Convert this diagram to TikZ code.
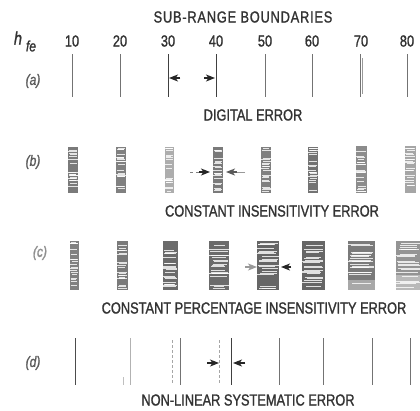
\documentclass[tikz,border=0pt]{standalone}
\usepackage{fontspec}
\newfontfamily\lbl[FakeStretch=0.8,FakeBold=1.2]{Liberation Sans}
\usetikzlibrary{arrows.meta}
\definecolor{ink}{HTML}{333333}
\newcommand\streakbar[5]{%
  \fill[#5] ({#1-#2/2},#3) rectangle ({#1+#2/2},#4);
  \foreach \k in {1,...,20}{%
    \pgfmathsetmacro\yy{#3+1+rnd*(#4-#3-2)}%
    \pgfmathsetmacro\xa{#1-#2/2+rnd*#2*0.25}%
    \pgfmathsetmacro\xb{#1+#2/2-rnd*#2*0.25}%
    \draw[white,opacity=0.8,line width=0.45] (\xa,\yy)--(\xb,\yy);
  }}
\begin{document}
\begin{tikzpicture}[x=1pt,y=-1pt,
  txt/.style={font=\lbl\fontsize{16}{18}\selectfont, text=ink, inner sep=0},
  rowlab/.style={font=\lbl\itshape\fontsize{15}{17}\selectfont, text=ink!80, inner sep=0},
  bline/.style={draw=black!55, line width=1},
  dline/.style={draw=black!35, line width=0.8, dash pattern=on 3pt off 2pt},
  tip/.style={-{Stealth[length=9pt,width=7pt,inset=2.5pt]}, line width=1.2, draw=black!85, fill=black!85}]
\pgfmathsetseed{11}
\useasboundingbox[fill=white] (0,0) rectangle (420,410);

% title and scale
\node[txt, font=\lbl\fontsize{16}{18}\selectfont\addfontfeature{LetterSpace=5}] (title) at (243,17) {SUB-RANGE BOUNDARIES};
\node[txt, font=\lbl\itshape\fontsize{18}{20}\selectfont] (hfe) at (18,38) {h};
\node[txt, font=\lbl\itshape\fontsize{15}{17}\selectfont] (hfesub) at (31,46) {fe};
\foreach \v/\x in {10/72,20/120,30/168,40/216,50/265,60/312,70/361,80/407}{
  \node[txt] (n\v) at (\x,41) {\v};
}

% row (a)
\node[rowlab] (la) at (33,81) {(a)};
\foreach \x in {72,120,265,312,407}{ \draw[bline] (\x,54) -- (\x,97); }
\draw[bline] (360,54) -- (360,97);
\draw[draw=black!40, line width=0.6] (362.5,58) -- (362.5,94);
\draw[bline, draw=black!75] (168,54) -- (168,97);
\draw[bline, draw=black!75] (216,54) -- (216,97);
\coordinate (a1) at (180,78); \coordinate (a1t) at (169,78);
\coordinate (a2) at (204,78); \coordinate (a2t) at (215,78);
\draw[tip] (a1) -- (a1t);
\draw[tip] (a2) -- (a2t);
\node[txt] (ta) at (253,115) {DIGITAL ERROR};

% row (b)
\node[rowlab] (lb) at (33,162) {(b)};
\streakbar{73}{10}{147}{193}{black!52}
\streakbar{121}{10}{147}{193}{black!50}
\streakbar{169}{9}{147}{193}{black!32}
\streakbar{218}{10}{147}{193}{black!52}
\streakbar{266}{10}{147}{193}{black!50}
\streakbar{313}{10}{147}{193}{black!55}
\streakbar{361}{11}{146}{193}{black!45}
\streakbar{410}{11}{146}{193}{black!35}
\coordinate (b1) at (190,172); \coordinate (b1m) at (199,172); \coordinate (b1t) at (210,172);
\coordinate (b2) at (245,172); \coordinate (b2m) at (237,172); \coordinate (b2t) at (226,172);
\draw[black!50, line width=0.6, dashed] (b1) -- (b1m);
\draw[tip] (b1m) -- (b1t);
\draw[black!40, line width=0.6] (b2) -- (b2m);
\draw[tip, draw=black!65, fill=black!65] (b2m) -- (b2t);
\node[txt] (tb) at (272,211) {CONSTANT INSENSITIVITY ERROR};

% row (c)
\node[rowlab, text=ink!55] (lc) at (40,253) {(c)};
\streakbar{74}{9}{241}{290}{black!50}
\streakbar{122}{11}{241}{290}{black!52}
\streakbar{170}{15}{241}{290}{black!58}
\streakbar{219}{20}{241}{290}{black!58}
\streakbar{268}{22}{241}{290}{black!60}
\streakbar{313}{23}{241}{290}{black!60}
\streakbar{361}{27}{241}{290}{black!52}
\streakbar{408}{25}{241}{290}{black!42}
\fill[white,opacity=0.35] (348,280) rectangle (375,290);
\fill[white,opacity=0.35] (395,275) rectangle (420,290);
\coordinate (c1) at (245,267); \coordinate (c1t) at (257,267);
\coordinate (c2) at (291,267); \coordinate (c2t) at (281,267);
\draw[tip, draw=black!40, fill=black!40] (c1) -- (c1t);
\draw[tip] (c2) -- (c2t);
\node[txt] (tc) at (254,308) {CONSTANT PERCENTAGE INSENSITIVITY ERROR};

% row (d)
\node[rowlab] (ld) at (33,363) {(d)};
\draw[bline, draw=black!70] (75,338) -- (75,385);
\draw[bline, draw=black!30] (130,338) -- (130,385);
\draw[draw=black!25, line width=0.6] (123,377) -- (123,385);
\foreach \x in {180,279,323,372,410}{ \draw[bline] (\x,338) -- (\x,385); }
\draw[bline, draw=black!75] (231,338) -- (231,385);
\draw[dline] (172,340) -- (172,384);
\draw[dline] (219,340) -- (219,384);
\coordinate (d1) at (207,363); \coordinate (d1t) at (219,363);
\coordinate (d2) at (245,363); \coordinate (d2t) at (233,363);
\draw[tip] (d1) -- (d1t);
\draw[tip] (d2) -- (d2t);
\node[txt] (td) at (248,400) {NON-LINEAR SYSTEMATIC ERROR};
\end{tikzpicture}
\end{document}
